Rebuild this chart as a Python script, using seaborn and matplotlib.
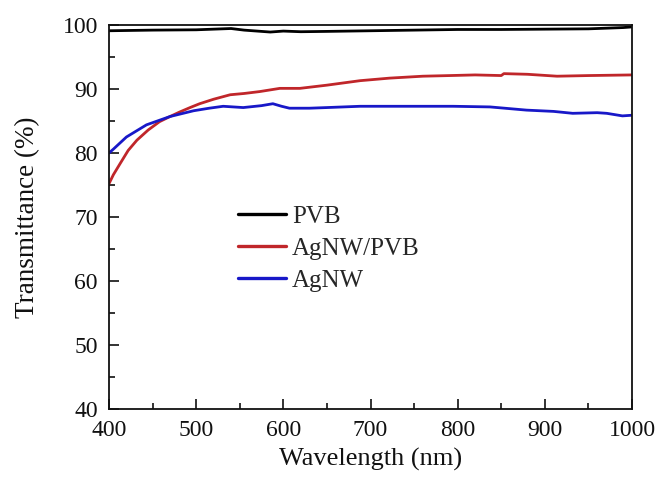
import matplotlib
matplotlib.use("Agg")
import matplotlib.pyplot as plt
import seaborn as sns
import pandas as pd
from matplotlib.ticker import MultipleLocator

# ---- data ----
pvb_nm = [400, 450, 500, 530, 540, 555, 575, 585, 600, 620, 650, 700, 750,
          800, 850, 900, 950, 990, 1000]
pvb_t = [99.1, 99.2, 99.25, 99.4, 99.45, 99.2, 99.0, 98.9, 99.05, 98.95, 99.0,
         99.1, 99.2, 99.3, 99.3, 99.35, 99.4, 99.6, 99.7]

agpvb_nm = [400, 405, 413, 422, 432, 445, 458, 470, 481, 493, 504, 520, 539,
            555, 573, 596, 619, 650, 688, 722, 760, 791, 820, 850, 853, 880,
            914, 950, 1000]
agpvb_t = [75.2, 76.6, 78.4, 80.4, 82.0, 83.6, 84.9, 85.7, 86.4, 87.1, 87.7,
           88.4, 89.1, 89.3, 89.6, 90.1, 90.1, 90.6, 91.3, 91.7, 92.0, 92.1,
           92.2, 92.1, 92.4, 92.3, 92.0, 92.1, 92.2]

agnw_nm = [400, 405, 420, 443, 470, 497, 515, 531, 554, 575, 588, 598, 607,
           630, 650, 688, 711, 750, 795, 837, 879, 910, 932, 960, 971, 989,
           1000]
agnw_t = [80.0, 80.6, 82.5, 84.4, 85.7, 86.6, 87.0, 87.3, 87.1, 87.4, 87.7,
          87.3, 87.0, 87.0, 87.1, 87.3, 87.3, 87.3, 87.3, 87.2, 86.7, 86.5,
          86.2, 86.3, 86.2, 85.8, 85.9]

series_names = ["PVB", "AgNW/PVB", "AgNW"]
series_colors = ["#000000", "#c0262a", "#1818c8"]

frames = [
    pd.DataFrame({"Wavelength": pvb_nm, "T": pvb_t, "Sample": "PVB"}),
    pd.DataFrame({"Wavelength": agpvb_nm, "T": agpvb_t, "Sample": "AgNW/PVB"}),
    pd.DataFrame({"Wavelength": agnw_nm, "T": agnw_t, "Sample": "AgNW"}),
]
df = pd.concat(frames, ignore_index=True)

sns.set_theme(style="ticks")
plt.rcParams["font.family"] = ["Liberation Serif", "DejaVu Serif"]
plt.rcParams["mathtext.fontset"] = "stix"

fig = plt.figure(figsize=(6.61, 4.78), dpi=100)
ax = fig.add_axes([109 / 661, 1 - 409 / 478, (632 - 109) / 661, (409 - 25) / 478])

sns.lineplot(data=df, x="Wavelength", y="T", hue="Sample",
             hue_order=series_names, palette=series_colors,
             estimator=None, sort=False, linewidth=2.0, ax=ax)

ax.set_xlim(400, 1000)
ax.set_ylim(40, 100)
ax.xaxis.set_major_locator(MultipleLocator(100))
ax.xaxis.set_minor_locator(MultipleLocator(50))
ax.yaxis.set_major_locator(MultipleLocator(10))
ax.yaxis.set_minor_locator(MultipleLocator(5))
ax.tick_params(which="both", direction="in", top=False, right=False,
               width=1.2, colors="#111111", labelsize=17, labelcolor="#111111")
ax.tick_params(axis="x", which="major", length=7, pad=8)
ax.tick_params(axis="y", which="major", length=7, pad=8)
ax.tick_params(which="minor", length=4)
for s in ax.spines.values():
    s.set_linewidth(1.3)
    s.set_color("#111111")

ax.set_xlabel("Wavelength (nm)", fontsize=19, labelpad=5, color="#111111")
ax.set_ylabel("Transmittance (%)", fontsize=19.5, labelpad=16, color="#111111")

leg = ax.legend(loc="upper left", bbox_to_anchor=(0.247, 0.53), frameon=False,
                fontsize=18, handlelength=1.9, handletextpad=0.25,
                labelspacing=0.38, borderpad=0, borderaxespad=0)
for line in leg.get_lines():
    line.set_linewidth(2.4)

fig.savefig("out.png", dpi=100)
